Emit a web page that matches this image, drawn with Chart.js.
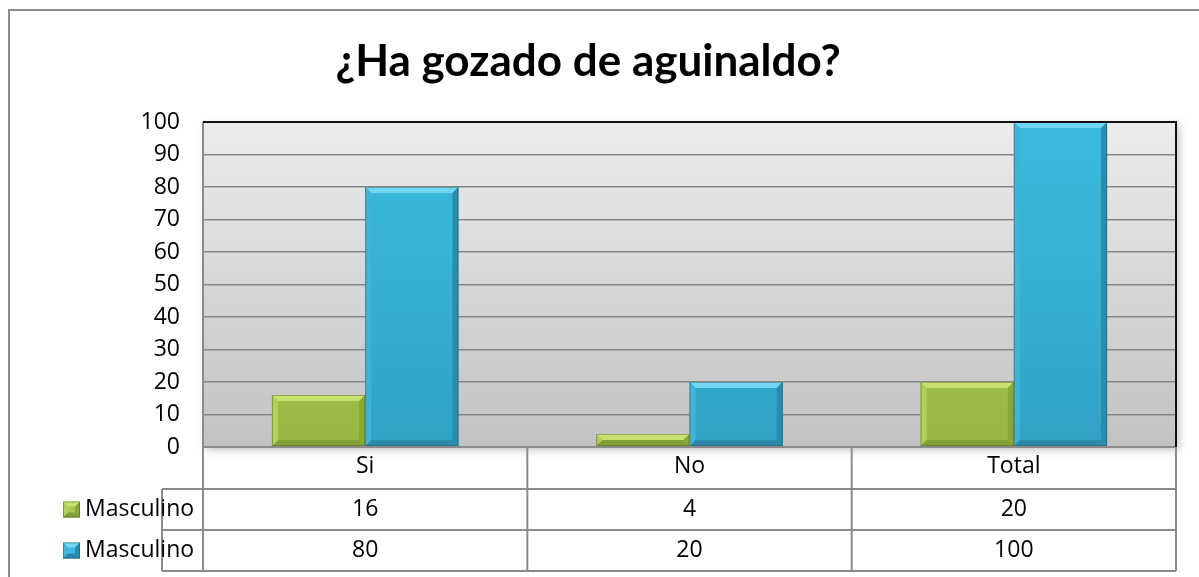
<!DOCTYPE html>
<html>
<head>
<meta charset="utf-8">
<script src="https://cdn.jsdelivr.net/npm/chart.js@4/dist/chart.umd.min.js"></script>
<style>
  html, body { margin: 0; padding: 0; background: #fff; }
  #wrap { width: 1199px; height: 577px; }
</style>
</head>
<body>
<div id="wrap"><canvas id="myChart" width="1199" height="577"></canvas></div>
<script>
// data
const categories = ['Si', 'No', 'Total'];
const series_names = ['Masculino', 'Masculino'];
const masculino_a = [16, 4, 20];
const masculino_b = [80, 20, 100];
const y_ticks = [0, 10, 20, 30, 40, 50, 60, 70, 80, 90, 100];

const FONT = "'Open Sans', 'DejaVu Sans', sans-serif";

// colours for each series: body top/bottom and the bevel faces
const palettes = [
  { top: '#a6c74f', bottom: '#98b943', light: '#c9e26e', left: '#b0d05a', right: '#8aa83a', base: '#849f36' },
  { top: '#3cbbe0', bottom: '#30a2c6', light: '#72d6f2', left: '#40b3d8', right: '#2a8dad', base: '#2a89a8' }
];

function bodyGradient(context, pal) {
  const chart = context.chart;
  const area = chart.chartArea;
  if (!area) return pal.top;
  const g = chart.ctx.createLinearGradient(0, area.top, 0, area.bottom);
  g.addColorStop(0, pal.top);
  g.addColorStop(1, pal.bottom);
  return g;
}

// background of the plot, outer frame
const plotBackground = {
  id: 'plotBackground',
  beforeDraw(chart) {
    const { ctx, chartArea: a } = chart;
    ctx.save();
    // outer frame
    ctx.strokeStyle = '#8c8c8c';
    ctx.lineWidth = 2;
    ctx.strokeRect(9, 10, 1400, 1000);
    // plot area with soft shadow
    ctx.shadowColor = 'rgba(0,0,0,0.25)';
    ctx.shadowBlur = 8;
    ctx.shadowOffsetX = 3;
    ctx.shadowOffsetY = 3;
    const g = ctx.createLinearGradient(0, a.top, 0, a.bottom);
    g.addColorStop(0, '#ececec');
    g.addColorStop(1, '#c2c2c2');
    ctx.fillStyle = g;
    ctx.fillRect(a.left, a.top, a.right - a.left, a.bottom - a.top);
    ctx.restore();
  },
  afterDraw(chart) {
    const { ctx, chartArea: a } = chart;
    ctx.save();
    ctx.lineWidth = 2;
    ctx.strokeStyle = '#8a8a8a';
    ctx.beginPath();
    ctx.moveTo(a.left, a.top);
    ctx.lineTo(a.left, a.bottom);
    ctx.lineTo(a.right, a.bottom);
    ctx.stroke();
    ctx.strokeStyle = '#111';
    ctx.beginPath();
    ctx.moveTo(a.left, a.top);
    ctx.lineTo(a.right, a.top);
    ctx.lineTo(a.right, a.bottom);
    ctx.stroke();
    ctx.restore();
  }
};

function bevelRect(ctx, l, t, r, b, pal, size) {
  const s = Math.min(size, (b - t) / 2, (r - l) / 2);
  const poly = (pts, col) => {
    ctx.fillStyle = col;
    ctx.beginPath();
    ctx.moveTo(pts[0][0], pts[0][1]);
    for (let i = 1; i < pts.length; i++) ctx.lineTo(pts[i][0], pts[i][1]);
    ctx.closePath();
    ctx.fill();
  };
  poly([[l, t], [r, t], [r - s, t + s], [l + s, t + s]], pal.light);
  poly([[l, t], [l + s, t + s], [l + s, b - s], [l, b]], pal.left);
  poly([[r, t], [r, b], [r - s, b - s], [r - s, t + s]], pal.right);
  poly([[l, b], [r, b], [r - s, b - s], [l + s, b - s]], pal.base);
  // thin dark outline like the reference
  ctx.strokeStyle = 'rgba(40,60,30,0.35)';
  ctx.lineWidth = 1;
  ctx.strokeRect(l + 0.5, t + 0.5, r - l - 1, b - t - 1);
}

// bevelled edges on each bar
const barBevel = {
  id: 'barBevel',
  afterDatasetsDraw(chart) {
    const ctx = chart.ctx;
    ctx.save();
    chart.data.datasets.forEach((ds, di) => {
      const meta = chart.getDatasetMeta(di);
      meta.data.forEach(bar => {
        const l = bar.x - bar.width / 2, r = bar.x + bar.width / 2;
        bevelRect(ctx, l, bar.y, r, bar.base, palettes[di], 6);
      });
    });
    ctx.restore();
  }
};

// data table under the plot
const dataTable = {
  id: 'dataTable',
  afterDraw(chart) {
    const ctx = chart.ctx;
    const xs = chart.scales.x;
    const a = chart.chartArea;
    const colW = (a.right - a.left) / categories.length;
    const rowTop = a.bottom;
    const catRowH = 42;
    const rowH = 41;
    const legendLeft = 162;
    const rows = [masculino_a, masculino_b];
    const tableBottom = rowTop + catRowH + rowH * rows.length;

    ctx.save();
    ctx.strokeStyle = '#8a8a8a';
    ctx.lineWidth = 2;
    // column separators
    for (let i = 0; i <= categories.length; i++) {
      const x = a.left + colW * i;
      ctx.beginPath();
      ctx.moveTo(x, rowTop);
      ctx.lineTo(x, tableBottom);
      ctx.stroke();
    }
    // row lines
    for (let r = 0; r <= rows.length; r++) {
      const y = rowTop + catRowH + rowH * r;
      ctx.beginPath();
      ctx.moveTo(legendLeft, y);
      ctx.lineTo(a.right, y);
      ctx.stroke();
    }
    ctx.beginPath();
    ctx.moveTo(legendLeft, rowTop + catRowH);
    ctx.lineTo(legendLeft, tableBottom);
    ctx.stroke();

    ctx.fillStyle = '#000';
    ctx.font = '23px ' + FONT;
    ctx.textAlign = 'center';
    ctx.textBaseline = 'middle';
    categories.forEach((c, i) => {
      ctx.fillText(c, xs.getPixelForValue(i), rowTop + catRowH / 2 - 2);
    });
    rows.forEach((vals, r) => {
      const cy = rowTop + catRowH + rowH * r + rowH / 2;
      vals.forEach((v, i) => {
        ctx.fillText(String(v), xs.getPixelForValue(i), cy);
      });
      // legend key: filled body, then bevel
      ctx.fillStyle = palettes[r].top;
      ctx.fillRect(63, cy - 8, 17, 16);
      bevelRect(ctx, 63, cy - 8, 80, cy + 8, palettes[r], 5);
      ctx.fillStyle = '#000';
      ctx.textAlign = 'left';
      ctx.fillText(series_names[r], 85, cy);
      ctx.textAlign = 'center';
    });
    ctx.restore();
  }
};

const ctx = document.getElementById('myChart').getContext('2d');

const myChart = new Chart(ctx, {
  type: 'bar',
  data: {
    labels: categories,
    datasets: [{
      label: series_names[0],
      data: masculino_a,
      backgroundColor: c => bodyGradient(c, palettes[0]),
      borderWidth: 0
    }, {
      label: series_names[1],
      data: masculino_b,
      backgroundColor: c => bodyGradient(c, palettes[1]),
      borderWidth: 0
    }]
  },
  options: {
    responsive: false,
    animation: false,
    layout: {
      padding: { left: 0, right: 23, top: 0, bottom: 130 }
    },
    datasets: {
      bar: { categoryPercentage: 0.575, barPercentage: 1 }
    },
    scales: {
      x: {
        display: false
      },
      y: {
        min: 0,
        max: 100,
        afterFit: scale => { scale.width = 203; },
        afterBuildTicks: scale => { scale.ticks = y_ticks.map(v => ({ value: v })); },
        border: { display: false },
        grid: { color: '#858585', lineWidth: 1.5, drawTicks: false },
        ticks: {
          padding: 23,
          color: '#000',
          font: { family: FONT, size: 23 }
        }
      }
    },
    plugins: {
      legend: { display: false },
      tooltip: { enabled: false },
      title: {
        display: true,
        text: '¿Ha gozado de aguinaldo?',
        color: '#000',
        font: { family: "Lato, 'Open Sans', sans-serif", size: 44, weight: 'bold' },
        padding: { top: 35, bottom: 34.2 }
      }
    }
  },
  plugins: [plotBackground, barBevel, dataTable]
});
</script>
</body>
</html>
